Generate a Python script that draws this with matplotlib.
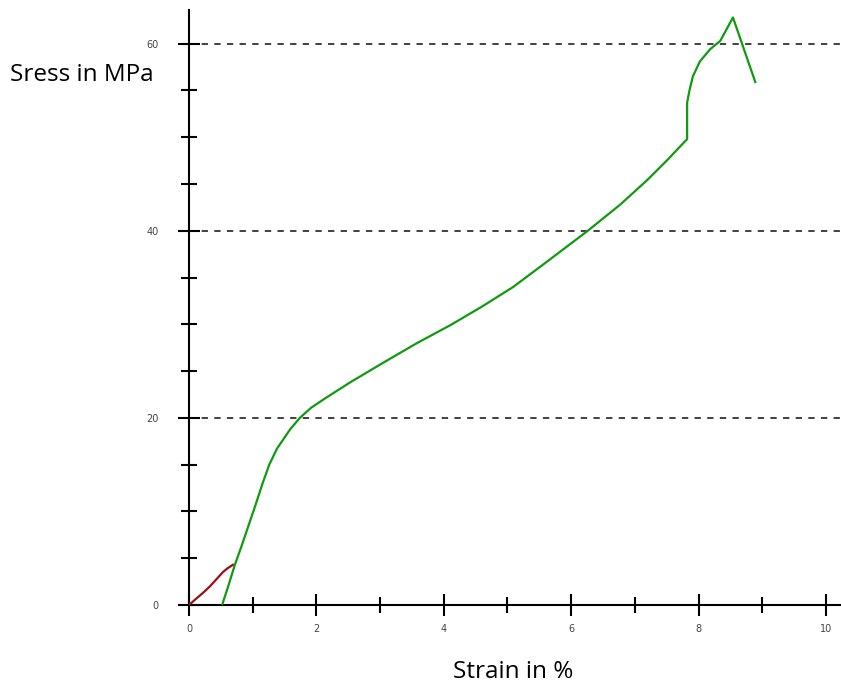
import matplotlib
matplotlib.use('Agg')
import matplotlib.pyplot as plt
from matplotlib.ticker import MultipleLocator

# first (red) trace
red_strain = [0.0, 0.1, 0.22, 0.33, 0.45, 0.53, 0.6, 0.69]
red_stress = [0.0, 0.6, 1.3, 2.0, 2.9, 3.5, 3.9, 4.3]

# main (green) trace
green_strain = [0.52, 0.62, 0.72, 0.82, 0.91, 1.04, 1.15, 1.26, 1.38, 1.49, 1.59,
                1.74, 1.92, 2.14, 2.53, 3.05, 3.58, 4.1, 4.6, 5.09, 5.62, 6.26,
                6.77, 7.19, 7.5, 7.82, 7.82, 7.86, 7.91, 8.02, 8.18, 8.34, 8.54, 8.89]
green_stress = [0.0, 2.1, 4.3, 6.2, 8.0, 10.6, 12.9, 15.0, 16.7, 17.8, 18.8,
                20.0, 21.1, 22.1, 23.8, 25.9, 28.0, 29.9, 31.9, 34.0, 36.7, 40.0,
                42.8, 45.4, 47.5, 49.8, 53.7, 55.1, 56.5, 58.1, 59.4, 60.3, 62.8, 55.9]

grid_levels = [20, 40, 60]

fig = plt.figure(figsize=(8.41, 6.86), dpi=100)
ax = fig.add_axes([189 / 841, 81 / 686, 651 / 841, 595 / 686])

for g in grid_levels:
    ax.axhline(g, color='#333333', lw=1.3, ls=(0, (3.5, 3.5)), zorder=1)

ax.plot(red_strain, red_stress, color='#9b1010', lw=1.6, zorder=3)
ax.plot(green_strain, green_stress, color='#109a10', lw=1.6, zorder=3)

ax.set_xlim(0, 10.22)
ax.set_ylim(0, 63.6)

ax.xaxis.set_major_locator(MultipleLocator(2))
ax.xaxis.set_minor_locator(MultipleLocator(1))
ax.yaxis.set_major_locator(MultipleLocator(20))
ax.yaxis.set_minor_locator(MultipleLocator(5))

for s in ['top', 'right']:
    ax.spines[s].set_visible(False)
for s in ['left', 'bottom']:
    ax.spines[s].set_linewidth(1.5)
    ax.spines[s].set_color('black')

ax.tick_params(which='major', direction='inout', length=16, width=1.5,
               labelsize=7, labelcolor='#444444', pad=6)
ax.tick_params(which='minor', direction='inout', length=11, width=1.5)
ax.tick_params(axis='y', which='major', pad=14)

fig.text(10 / 841, 1 - 75 / 686, 'Sress in MPa', fontsize=17.5, family='Open Sans',
         ha='left', va='center')
fig.text(513 / 841, 1 - 672 / 686, 'Strain in %', fontsize=17.5, family='Open Sans',
         ha='center', va='center')

fig.savefig('out.png', dpi=100)
